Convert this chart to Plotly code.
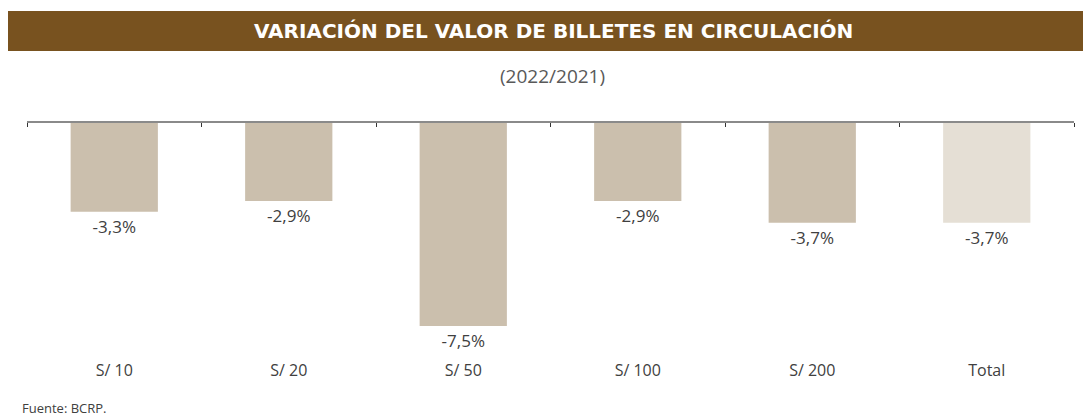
import plotly.graph_objects as go

categories = ["S/ 10", "S/ 20", "S/ 50", "S/ 100", "S/ 200", "Total"]
values = [-3.3, -2.9, -7.5, -2.9, -3.7, -3.7]
bar_colors = ["#cbbfad", "#cbbfad", "#cbbfad", "#cbbfad", "#cbbfad", "#e5dfd5"]
labels = [f"{v:.1f}%".replace(".", ",") for v in values]

W, H = 1083, 419
M_L, M_R, M_T, M_B = 27, 9, 122, 63
plot_h = H - M_T - M_B
plot_w = W - M_L - M_R

def py(y_px):
    return (H - M_B - y_px) / plot_h

def px(x_px):
    return (x_px - M_L) / plot_w

FONT = "Open Sans"

fig = go.Figure()
fig.add_trace(go.Bar(
    x=categories, y=values, marker=dict(color=bar_colors, line=dict(width=0)),
    text=labels, textposition="outside", cliponaxis=False,
    textfont=dict(family=FONT, size=17, color="#404040"),
    hoverinfo="skip", xaxis="x", yaxis="y",
))
fig.add_trace(go.Scatter(
    x=categories, y=values, mode="markers", marker=dict(opacity=0),
    xaxis="x2", yaxis="y", hoverinfo="skip", showlegend=False,
))

fig.update_layout(
    width=W, height=H,
    margin=dict(l=M_L, r=M_R, t=M_T, b=M_B),
    paper_bgcolor="white", plot_bgcolor="white",
    showlegend=False, bargap=0.5,
    separators=",.",
    font=dict(family=FONT, color="#404040"),
    xaxis=dict(type="category", categoryorder="array", categoryarray=categories,
               showline=False, ticks="", showgrid=False, ticklabelstandoff=3,
               tickfont=dict(family=FONT, size=16, color="#404040")),
    xaxis2=dict(type="category", overlaying="x", matches="x", anchor="free",
                position=1, side="bottom", showticklabels=False,
                showline=True, linecolor="#8a8a8a", linewidth=1.5,
                ticks="outside", tickson="boundaries", ticklen=4, tickwidth=1,
                tickcolor="#333333", showgrid=False),
    yaxis=dict(range=[-8.6, 0], visible=False, showgrid=False, zeroline=False),
)

fig.add_shape(type="rect", xref="paper", yref="paper",
              x0=px(8), x1=px(1083), y0=py(51), y1=py(11),
              fillcolor="#78521f", line=dict(width=0), layer="below")
fig.add_annotation(xref="paper", yref="paper", x=px(553), y=py(31),
                   text="<b>VARIACIÓN DEL VALOR DE BILLETES EN CIRCULACIÓN</b>",
                   showarrow=False, xanchor="center", yanchor="middle",
                   font=dict(family="DejaVu Sans", size=20, color="white"))
fig.add_annotation(xref="paper", yref="paper", x=px(552), y=py(76),
                   text="(2022/2021)", showarrow=False,
                   xanchor="center", yanchor="middle",
                   font=dict(family=FONT, size=19, color="#595959"))
fig.add_annotation(xref="paper", yref="paper", x=px(20), y=py(408),
                   text="Fuente: BCRP.", showarrow=False,
                   xanchor="left", yanchor="middle",
                   font=dict(family=FONT, size=13, color="#404040"))

fig.write_html("out.html", config={"displayModeBar": False},
               post_script="document.body.style.margin='0px';")
